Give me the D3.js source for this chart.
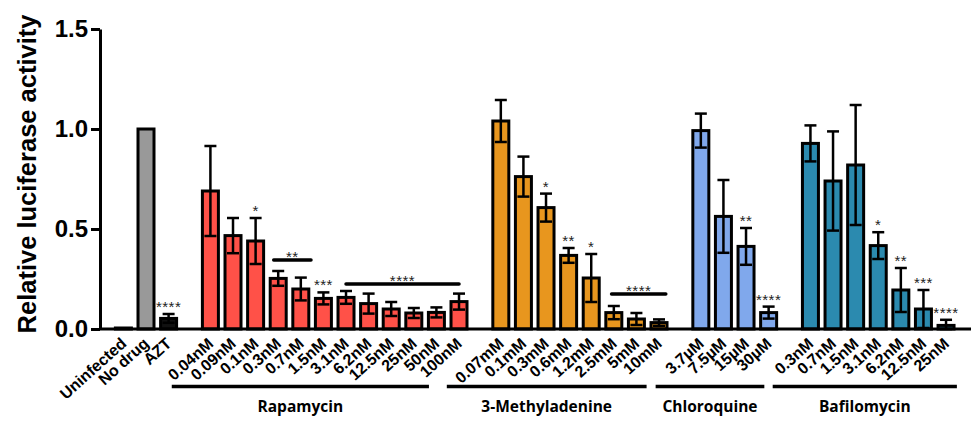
<!DOCTYPE html>
<html>
<head>
<meta charset="utf-8">
<script src="https://cdn.jsdelivr.net/npm/d3@7"></script>
<style>
  body { margin: 0; background: #fff; }
  svg { display: block; }
</style>
</head>
<body>
<div id="chart"></div>
<script>
// groups of bars, left to right
const groupNames = ["", "Rapamycin", "3-Methyladenine", "Chloroquine", "Bafilomycin"];
const groupColors = ["#999999", "#ff5148", "#e8961e", "#80a8ec", "#2b8aaf"];

const controlLabels = ["Uninfected", "No drug", "AZT"];
const controlValues = [0.005, 1.0, 0.053];
const controlErr = [0, 0, 0.022];
const controlStars = ["", "", "****"];

const rapaLabels = ["0.04nM", "0.09nM", "0.1nM", "0.3nM", "0.7nM", "1.5nM", "3.1nM", "6.2nM", "12.5nM", "25nM", "50nM", "100nM"];
const rapaValues = [0.69, 0.467, 0.44, 0.253, 0.2, 0.153, 0.158, 0.127, 0.1, 0.08, 0.083, 0.137];
const rapaErr = [0.225, 0.088, 0.115, 0.037, 0.057, 0.03, 0.032, 0.05, 0.035, 0.025, 0.025, 0.04];
const rapaStars = ["", "", "*", "", "", "***", "", "", "", "", "", ""];

const mLabels = ["0.07mM", "0.1mM", "0.3mM", "0.6mM", "1.2mM", "2.5mM", "5mM", "10mM"];
const mValues = [1.04, 0.762, 0.607, 0.368, 0.255, 0.082, 0.05, 0.032];
const mErr = [0.105, 0.1, 0.07, 0.037, 0.12, 0.033, 0.03, 0.016];
const mStars = ["", "", "*", "**", "*", "", "", ""];

const cqLabels = ["3.7µM", "7.5µM", "15µM", "30µM"];
const cqValues = [0.992, 0.563, 0.413, 0.082];
const cqErr = [0.085, 0.182, 0.092, 0.03];
const cqStars = ["", "", "**", "****"];

const bafLabels = ["0.3nM", "0.7nM", "1.5nM", "3.1nM", "6.2nM", "12.5nM", "25nM"];
const bafValues = [0.928, 0.74, 0.82, 0.417, 0.195, 0.1, 0.018];
const bafErr = [0.09, 0.248, 0.3, 0.067, 0.11, 0.095, 0.028];
const bafStars = ["", "", "", "*", "**", "***", "****"];

// lines with stars over a run of bars: group, from bar, to bar, height, text
const sigGroup = [1, 1, 2];
const sigFrom = [2.8, 6, 4.9];
const sigTo = [4.45, 11, 7.3];
const sigValue = [0.345, 0.225, 0.175];
const sigText = ["**", "****", "****"];

// underline of each drug group, in bar slots
const spanStart = [null, 2.14, 14.31, 23.55, 28.73];
const spanEnd = [null, 13.52, 23.15, 28.36, 36.88];

const yTicks = [0, 0.5, 1.0, 1.5];

const labels = [controlLabels, rapaLabels, mLabels, cqLabels, bafLabels];
const values = [controlValues, rapaValues, mValues, cqValues, bafValues];
const errs = [controlErr, rapaErr, mErr, cqErr, bafErr];
const stars = [controlStars, rapaStars, mStars, cqStars, bafStars];

const width = 971, height = 421;
const gapSlots = 0.85;

// flatten into one list of bars with slot position
const bars = [];
const groupSlots = [];
let cursor = 0;
labels.forEach((labs, g) => {
  const s = [];
  labs.forEach((lab, i) => {
    bars.push({ g, i, label: lab, value: values[g][i], err: errs[g][i], star: stars[g][i], slot: cursor });
    s.push(cursor);
    cursor += 1;
  });
  groupSlots.push(s);
  cursor += gapSlots;
});
const lastSlot = cursor - 1 - gapSlots;

const x = d3.scaleLinear().domain([0, lastSlot]).range([123.4, 123.4 + lastSlot * 22.6]);
const y = d3.scaleLinear().domain([0, 1.5]).range([329, 29]);
const barW = 16;

const svg = d3.select("#chart").append("svg")
  .attr("width", width)
  .attr("height", height);

function fillOf(d) {
  if (d.g === 0) return ["#ffffff", "#999999", "#111111"][d.i];
  return groupColors[d.g];
}

// bars
svg.append("g").selectAll("rect")
  .data(bars)
  .enter()
  .append("rect")
  .attr("x", d => x(d.slot) - barW / 2)
  .attr("y", d => y(d.value))
  .attr("width", barW)
  .attr("height", d => y(0) - y(d.value))
  .attr("fill", fillOf)
  .attr("stroke", "#000")
  .attr("stroke-width", 3);

// error bars
const eb = svg.append("g").attr("stroke", "#000").attr("stroke-width", 2.5);
bars.filter(d => d.err > 0).forEach(d => {
  const cx = x(d.slot);
  eb.append("line").attr("x1", cx).attr("x2", cx)
    .attr("y1", y(d.value + d.err)).attr("y2", y(Math.max(0, d.value - d.err)));
  eb.append("line").attr("x1", cx - 6).attr("x2", cx + 6)
    .attr("y1", y(d.value + d.err)).attr("y2", y(d.value + d.err));
  eb.append("line").attr("x1", cx - 6).attr("x2", cx + 6)
    .attr("y1", y(Math.max(0, d.value - d.err))).attr("y2", y(Math.max(0, d.value - d.err)));
});

// stars above single bars
svg.append("g").selectAll("text")
  .data(bars.filter(d => d.star))
  .enter()
  .append("text")
  .attr("x", d => x(d.slot))
  .attr("y", d => y(d.value + d.err) - 2)
  .attr("text-anchor", "middle")
  .attr("font-family", "Liberation Sans, Arial, sans-serif")
  .attr("font-size", 15)
  .attr("letter-spacing", 0.5)
  .attr("fill", "#222")
  .text(d => d.star);

// significance lines over several bars
sigText.forEach((t, k) => {
  const s = groupSlots[sigGroup[k]];
  const x1 = x(s[0] + sigFrom[k]), x2 = x(s[0] + sigTo[k]);
  svg.append("line")
    .attr("x1", x1).attr("x2", x2)
    .attr("y1", y(sigValue[k])).attr("y2", y(sigValue[k]))
    .attr("stroke", "#000").attr("stroke-width", 3.5).attr("stroke-linecap", "round");
  svg.append("text")
    .attr("x", (x1 + x2) / 2)
    .attr("y", y(sigValue[k]) + 2)
    .attr("text-anchor", "middle")
    .attr("font-family", "Liberation Sans, Arial, sans-serif")
    .attr("font-size", 15)
    .attr("letter-spacing", 0.5)
    .attr("fill", "#222")
    .text(t);
});

// x baseline
svg.append("line")
  .attr("x1", 100).attr("x2", width)
  .attr("y1", y(0)).attr("y2", y(0))
  .attr("stroke", "#000").attr("stroke-width", 3);

// y axis
svg.append("g")
  .attr("transform", "translate(100,0)")
  .call(d3.axisLeft(y).tickValues(yTicks).tickFormat(d3.format(".1f")).tickSize(9).tickSizeOuter(0).tickPadding(3))
  .call(g => g.select(".domain").attr("stroke-width", 3))
  .call(g => g.selectAll(".tick line").attr("stroke-width", 3))
  .call(g => g.selectAll(".tick text")
    .attr("font-family", "Liberation Sans, Arial, sans-serif")
    .attr("font-weight", "bold")
    .attr("font-size", 24)
    .attr("fill", "#000"));

svg.append("text")
  .attr("transform", "translate(36,174) rotate(-90)")
  .attr("text-anchor", "middle")
  .attr("font-family", "Liberation Sans, Arial, sans-serif")
  .attr("font-weight", "bold")
  .attr("font-size", 25.5)
  .text("Relative luciferase activity");

// rotated bar labels
svg.append("g").selectAll("text")
  .data(bars)
  .enter()
  .append("text")
  .attr("transform", d => `translate(${x(d.slot) + 4},${y(0) + 16}) rotate(-42)`)
  .attr("text-anchor", "end")
  .attr("font-family", "Liberation Sans, Arial, sans-serif")
  .attr("font-weight", "bold")
  .attr("font-size", 16)
  .text(d => d.label);

// group underlines and names
groupNames.forEach((name, g) => {
  if (!name) return;
  const x1 = x(spanStart[g]), x2 = x(spanEnd[g]);
  svg.append("line")
    .attr("x1", x1).attr("x2", x2)
    .attr("y1", 386.5).attr("y2", 386.5)
    .attr("stroke", "#000").attr("stroke-width", 3.5);
  svg.append("text")
    .attr("x", (x1 + x2) / 2)
    .attr("y", 412)
    .attr("text-anchor", "middle")
    .attr("font-family", "Open Sans, sans-serif")
    .attr("font-weight", 700)
    .attr("font-size", 15.5)
    .text(name);
});
</script>
</body>
</html>
